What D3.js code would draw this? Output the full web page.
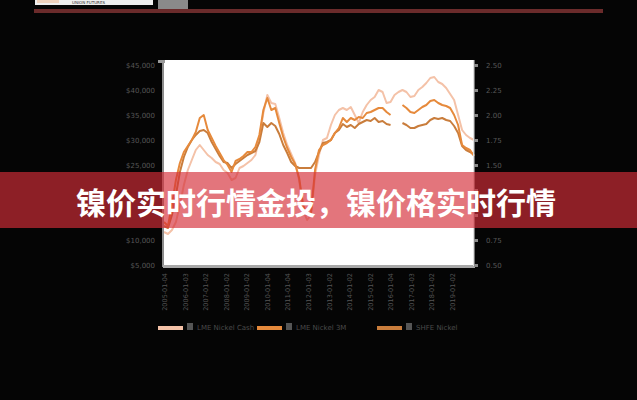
<!DOCTYPE html>
<html><head><meta charset="utf-8">
<script src="https://cdn.jsdelivr.net/npm/d3@7"></script>
<style>html,body{margin:0;padding:0;background:#050505;}svg{display:block;}</style>
</head><body>
<svg id="c" width="637" height="400"></svg>
<script>
// ---- data ----
const xLabels = ["2005-01-04","2006-01-03","2007-01-02","2008-01-02","2009-01-02","2010-01-04","2011-01-04","2012-01-03","2013-01-02","2014-01-02","2015-01-02","2016-01-04","2017-01-03","2018-01-02","2019-01-02"];
const leftTicks = [5000,10000,15000,20000,25000,30000,35000,40000,45000];
const rightTicks = [0.50,0.75,1.00,1.25,1.50,1.75,2.00,2.25,2.50];
const hiddenLeft = [15000,20000];      // covered by the banner in the picture
const hiddenRight = [1.00,1.25];
const seriesNames = ["LME Nickel Cash","LME Nickel 3M","SHFE Nickel"];
const lightSeries = [11600,11200,12000,13600,17000,21000,24000,26000,28000,29000,28000,27000,26400,25600,25200,24000,23400,22000,22400,24400,24800,25400,26000,27000,30400,35400,39000,37400,37200,34400,31400,29000,27200,25400,22000,16000,14000,15000,23000,27000,30000,30400,33000,35000,36000,36400,36000,36600,35000,33400,35600,37000,38000,38600,40000,39600,37400,37600,39000,39600,40000,39600,38600,38800,40000,40600,41400,42400,42600,41600,41200,40400,39200,38000,35000,32000,31000,30400,30000];
const mediumSeries = [13600,12800,17000,22000,25400,27600,28800,30000,31600,34400,35000,32000,30400,28800,27400,26000,25000,23600,25800,26200,26800,27600,27600,28600,31000,36000,38400,36000,36400,33400,30600,28400,26600,25200,22400,17000,15000,15600,24000,28000,29000,29400,30000,31400,32400,34400,33600,34400,34000,34600,34400,35400,35600,36000,36400,36400,35600,35000,null,null,37000,36400,35600,35400,36000,36600,37000,37800,38000,37400,37000,36800,36400,35000,33000,29000,28400,28000,26800];
const darkSeries = [12800,12400,15000,19000,23600,26600,28600,30000,31000,31800,32000,31400,29600,28200,26800,25600,25400,24400,25200,25800,26400,27000,27400,27800,29600,33400,32600,33400,32800,31200,29000,27400,25600,24800,24400,24400,24400,24400,25600,27600,29400,29600,30000,31400,32000,33200,32600,33000,32400,33200,33600,34000,33800,34400,33600,33800,33200,33000,null,null,33400,33000,32400,32400,32800,33000,33200,34000,34400,34200,34400,34000,33800,32800,31400,28800,28000,27600,27000];
const colors = ["#f4c2a8","#e68a3c","#c97d3c"];
const bannerText = "镍价实时行情金投，镍价格实时行情";

const svg = d3.select("#c");
svg.append("rect").attr("width",637).attr("height",400).attr("fill","#050505");

// top decorations
svg.append("rect").attr("x",35).attr("y",0).attr("width",118).attr("height",5).attr("fill","#efefef");
svg.append("rect").attr("x",37).attr("y",0).attr("width",22).attr("height",3).attr("fill","#eed2bd");
svg.append("text").attr("x",72).attr("y",4.2).attr("font-size",4).attr("font-family","DejaVu Sans").attr("fill","#333").text("UNION FUTURES");
svg.append("rect").attr("x",158).attr("y",0).attr("width",30).attr("height",9).attr("fill","#8a8a8a");
svg.append("rect").attr("x",34).attr("y",9).attr("width",569).attr("height",4).attr("fill","#6b2b2b");

// plot area
const x0 = 164, x1 = 474, yTop = 65, yBot = 265;
svg.append("rect").attr("x",163).attr("y",60).attr("width",311).attr("height",206).attr("fill","#ffffff");

const n = lightSeries.length;
const x = d3.scaleLinear().domain([0,n-1]).range([x0,x1]);
const y = d3.scaleLinear().domain([5000,45000]).range([yBot,yTop]);
const y2 = d3.scaleLinear().domain([0.5,2.5]).range([yBot,yTop]);

const line = d3.line().defined(d=>d!=null).x((d,i)=>x(i)).y(d=>y(d));
[lightSeries,darkSeries,mediumSeries].forEach((s,k)=>{
  const c = [colors[0],colors[2],colors[1]][k];
  svg.append("path").datum(s).attr("d",line).attr("fill","none")
    .attr("stroke",c).attr("stroke-width",2).attr("stroke-linejoin","round");
});

// axes lines
svg.append("rect").attr("x",162).attr("y",60).attr("width",2).attr("height",207).attr("fill","#8c8c8c");
svg.append("rect").attr("x",158).attr("y",60).attr("width",7).attr("height",3).attr("fill","#9a9a9a");
svg.append("rect").attr("x",163).attr("y",265).attr("width",312).attr("height",3).attr("fill","#a8a8a8");
svg.append("rect").attr("x",473).attr("y",60).attr("width",1.5).attr("height",206).attr("fill","#e0e0e0");

const ga = svg.append("g").attr("transform","translate(163,0)")
  .call(d3.axisLeft(y).tickValues(leftTicks).tickSize(0).tickPadding(8)
    .tickFormat(d=>hiddenLeft.includes(d) ? "" : "$"+d3.format(",")(d)));
ga.select(".domain").remove();
ga.selectAll("text").attr("fill","#585858").attr("font-size",7).attr("font-family","DejaVu Sans");

const gr = svg.append("g").attr("transform","translate(474,0)")
  .call(d3.axisRight(y2).tickValues(rightTicks).tickSize(4).tickPadding(8)
    .tickFormat(d=>hiddenRight.includes(d) ? "" : d3.format(".2f")(d)));
gr.select(".domain").remove();
gr.selectAll("line").attr("stroke","#8a8a8a").attr("stroke-width",3);
gr.selectAll("text").attr("fill","#585858").attr("font-size",7).attr("font-family","DejaVu Sans");

// x labels (rotated)
const xl = d3.scalePoint().domain(xLabels).range([165,453]);
svg.append("g").selectAll("text").data(xLabels).join("text")
  .attr("transform",d=>`translate(${xl(d)+2},273) rotate(-90)`)
  .attr("text-anchor","end").attr("font-size",6.5).attr("font-family","DejaVu Sans")
  .attr("fill","#555").text(d=>d);

// legend
const legX = [158,257,377];
const legG = svg.append("g");
seriesNames.forEach((nm,i)=>{
  legG.append("rect").attr("x",legX[i]).attr("y",326).attr("width",25).attr("height",4).attr("fill",colors[i]);
  legG.append("rect").attr("x",legX[i]+29).attr("y",323).attr("width",6).attr("height",7).attr("fill","#555");
  legG.append("text").attr("x",legX[i]+39).attr("y",330).attr("font-size",7).attr("font-family","DejaVu Sans")
    .attr("fill","#4a4a4a").text(nm);
});

// banner overlay
svg.append("rect").attr("x",0).attr("y",172).attr("width",637).attr("height",56).attr("fill","rgba(212,46,56,0.66)");
svg.append("text").attr("x",316).attr("y",201).attr("text-anchor","middle").attr("dominant-baseline","central")
  .attr("font-size",30).attr("font-weight","bold").attr("font-family","'Noto Sans CJK SC', sans-serif")
  .attr("fill","#ffffff").text(bannerText);
</script>
</body></html>
